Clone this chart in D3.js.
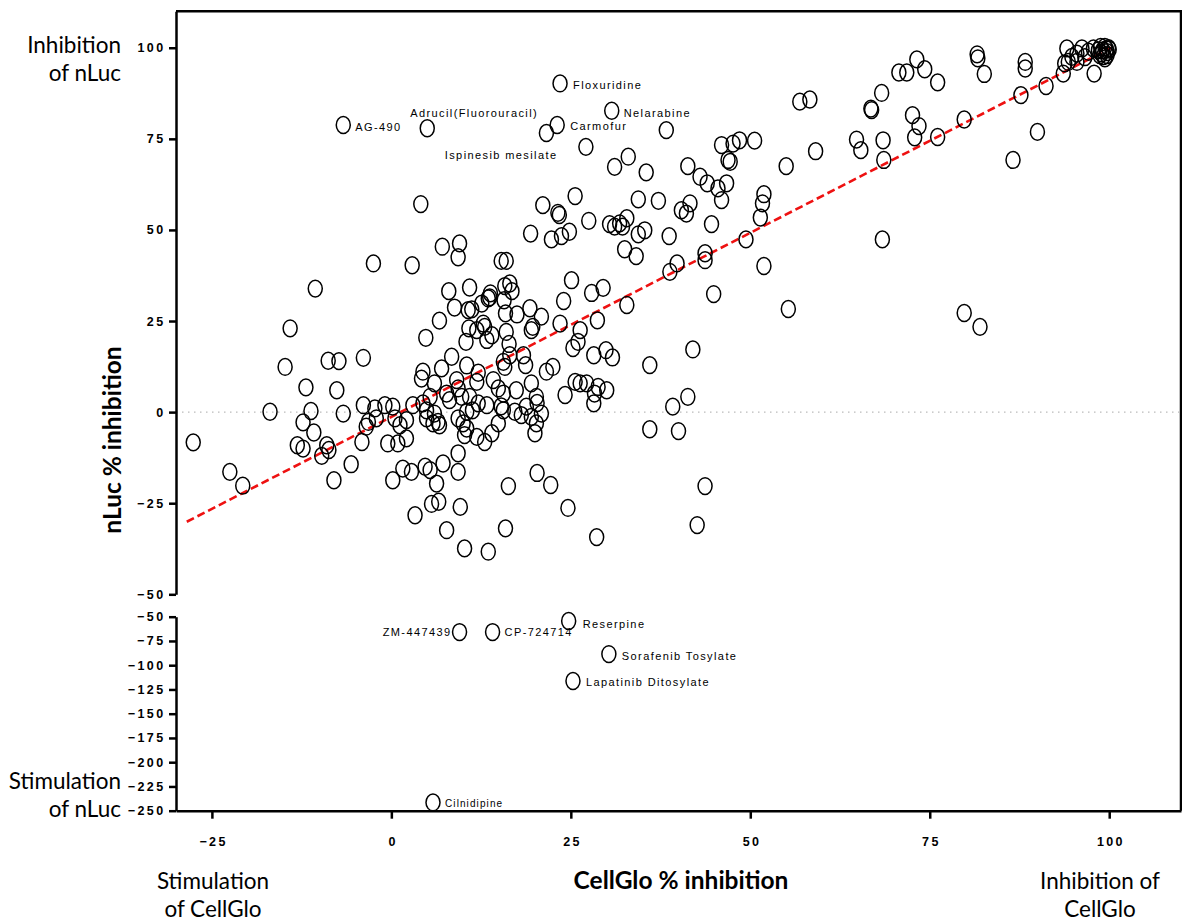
<!DOCTYPE html>
<html>
<head>
<meta charset="utf-8">
<title>CellGlo vs nLuc % inhibition</title>
<script src="https://cdn.jsdelivr.net/npm/d3@7"></script>
<style>
	body { margin: 0; background: #fff; }
	.tick line { stroke: #000; stroke-width: 2.5; }
	.domain { stroke: #000; stroke-width: 2.5; }
</style>
</head>
<body>
<div id="chart"></div>
<script>

	// each compound: [CellGlo % inhibition, nLuc % inhibition]
	var screened = [
		[-10.6,33.9],[-14.1,23.0],[-14.8,12.4],[-8.8,14.1],[-11.9,6.8],[-16.9,0.1],[-11.2,0.3],[-12.3,-2.8],
		[-10.8,-5.6],[-27.6,-8.3],[-13.1,-9.1],[-12.3,-10.0],[-9.0,-9.1],[-8.7,-10.4],[-9.7,-12.0],[-22.5,-16.4],
		[-20.7,-20.2],[-7.3,14.0],[-7.6,6.0],[-6.7,-0.4],[-5.6,-14.3],[-8.0,-18.7],[-4.1,-8.2],[-3.9,14.9],[-2.5,40.8],
		[4.1,57.1],[7.1,45.4],[9.5,46.3],[9.3,42.5],[2.9,40.3],[15.3,41.5],[16.0,41.5],[8.0,33.2],[10.9,34.2],
		[13.8,32.6],[13.7,31.5],[15.8,34.6],[16.5,35.3],[16.8,33.2],[8.8,28.7],[10.7,28.0],[11.2,28.2],[12.6,29.8],
		[13.5,31.2],[15.7,30.7],[15.9,27.1],[17.5,26.8],[6.7,25.1],[10.8,23.0],[11.9,22.5],[12.8,24.3],[13.0,23.4],
		[14.0,21.1],[13.3,19.8],[16.0,22.0],[16.4,18.7],[4.8,20.4],[10.4,19.3],[8.4,15.2],[10.5,12.8],[16.5,15.6],
		[15.6,13.8],[15.8,12.4],[12.1,10.8],[11.9,8.3],[7.0,12.0],[6.0,7.9],[4.4,11.1],[4.2,9.2],[9.1,8.8],
		[9.3,6.5],[9.8,4.2],[14.2,8.8],[14.9,6.5],[15.6,5.1],[17.4,6.0],[7.7,5.1],[5.4,4.2],[10.9,4.2],
		[-3.9,1.9],[-2.3,1.0],[-0.9,1.9],[-3.2,-2.7],[-2.1,-1.7],[-3.5,-4.0],[0.5,-1.7],[1.2,-3.6],[2.1,-2.2],
		[-0.5,-8.6],[0.9,-8.6],[2.1,-7.2],[4.9,-1.7],[5.8,-3.1],[6.5,-2.7],[6.0,-0.4],[6.7,-3.6],[3.0,1.9],
		[4.4,2.4],[9.3,-1.7],[10.0,-3.1],[10.5,-4.5],[10.2,-6.3],[10.5,0.1],[11.9,-6.8],[13.0,-8.2],[14.0,-5.8],
		[14.9,-3.1],[12.1,2.4],[13.3,1.9],[15.6,0.5],[17.2,0.1],[18.1,-0.8],[18.8,1.5],[19.5,-1.3],[20.2,-3.1],
		[20.9,-0.4],[20.0,-5.8],[9.3,-11.3],[7.2,-14.1],[9.3,-16.4],[4.7,-15.0],[5.4,-15.9],[1.6,-15.5],[2.8,-16.4],
		[0.2,-18.7],[6.3,-19.6],[5.6,-25.2],[6.6,-24.6],[9.6,-26.0],[3.3,-28.3],[7.7,-32.4],[10.2,-37.4],[13.5,-38.3],
		[16.3,-20.3],[20.3,-16.7],[22.2,-20.0],[15.9,-31.9],[0.2,1.5],[8.1,3.3],[11.3,0.5],[15.3,1.6],[20.3,2.5],[4.9,0.5],
		[38.3,77.4],[27.1,72.8],[31.1,67.3],[33.0,70.1],[35.5,65.8],[41.3,67.5],[43.0,64.6],[44.0,62.8],[45.5,61.4],
		[46.7,62.8],[46.0,58.2],[46.0,73.3],[47.6,73.7],[46.9,69.2],[47.2,68.7],[25.6,59.3],[21.1,56.8],[23.2,54.7],
		[23.4,54.1],[27.5,52.5],[34.4,58.4],[37.2,58.0],[40.4,55.4],[41.6,57.3],[41.1,54.5],[30.4,51.6],[31.8,51.8],
		[32.8,53.2],[31.1,50.9],[32.2,50.9],[34.4,48.8],[35.3,49.9],[38.7,48.3],[44.6,51.6],[19.4,49.0],[22.3,47.4],
		[23.7,48.3],[24.8,49.5],[32.5,44.7],[34.1,42.8],[43.7,43.6],[43.7,41.7],[38.8,38.5],[39.8,40.8],[25.1,36.2],
		[27.9,32.7],[29.5,34.1],[24.0,30.5],[32.8,29.4],[44.9,32.4],[19.3,28.5],[20.9,26.2],[19.7,23.4],[19.5,22.5],
		[23.5,24.3],[26.3,22.5],[26.0,19.3],[28.7,25.2],[25.3,17.6],[28.2,15.6],[29.9,17.0],[30.8,15.0],[22.5,12.4],
		[21.6,11.1],[18.7,12.9],[18.4,15.6],[36.0,12.9],[42.0,17.2],[19.5,7.9],[20.2,4.2],[25.6,8.3],[26.3,7.9],
		[27.2,7.9],[28.8,6.9],[30.0,6.0],[28.3,5.1],[28.2,2.4],[24.2,4.7],[41.3,4.2],[39.2,1.5],[40.0,-5.2],
		[36.0,-4.7],[24.6,-26.3],[28.6,-34.3],[43.7,-20.3],[42.6,-31.0],
		[48.5,74.6],[50.6,74.5],[56.9,85.2],[58.3,85.8],[55.0,67.5],[59.1,71.6],[51.9,59.8],[51.7,57.3],[51.4,53.4],
		[49.4,47.4],[51.9,40.1],[55.3,28.3],[64.8,74.8],[65.4,71.9],[68.5,74.6],[68.6,69.2],[68.3,87.6],[66.9,82.9],
		[66.8,83.3],[70.7,93.2],[71.8,93.2],[73.2,96.8],[74.3,94.1],[76.1,90.5],[72.6,81.5],[73.5,78.5],[72.9,75.4],
		[76.1,75.5],[79.8,80.3],[68.4,47.4],[81.6,98.2],[81.7,97.1],[82.6,92.8],[86.6,69.2],[90.0,76.9],[88.3,96.1],
		[88.3,94.3],[87.7,87.0],[91.2,89.5],[79.8,27.2],[82.0,23.4],
		[94.1,99.8],[93.8,95.7],[94.8,97.5],[95.5,98.4],[96.2,99.8],[95.5,96.1],[93.6,92.9],[94.3,96.1],[97.1,98.9],
		[97.8,99.8],[98.5,99.3],[97.9,92.9],[98.7,98.0],[99.1,99.3],[99.4,100.2],[99.7,98.8],[99.2,97.7],[99.6,99.6],
		[99.9,99.9],[98.9,98.5],[99.7,98.0],[99.4,97.1],[100.0,99.5],[98.8,100.2],[96.6,97.4]
	];

	// named compounds
	var labelNames = ["AG-490", "Adrucil(Fluorouracil)", "Carmofur", "Ispinesib mesilate", "Floxuridine", "Nelarabine",
		"ZM-447439", "CP-724714", "Reserpine", "Sorafenib Tosylate", "Lapatinib Ditosylate", "Cilnidipine"];
	var labelX = [-6.7, 5.0, 23.1, 21.6, 23.5, 30.7, 9.5, 14.1, 24.7, 30.3, 25.3, 5.8];
	var labelY = [78.8, 77.9, 78.8, 76.6, 90.2, 82.7, -65.8, -65.8, -54.4, -88.5, -116.3, -241.5];

	// where each name sits next to its circle
	var labelPlace = [
		{dx: 12, dy: 2, anchor: "start"}, {dx: -17, dy: -15, anchor: "start"}, {dx: 13, dy: 1, anchor: "start"},
		{dx: 11, dy: 22, anchor: "end"}, {dx: 13, dy: 2, anchor: "start"}, {dx: 12, dy: 2, anchor: "start"},
		{dx: -8, dy: 0, anchor: "end"}, {dx: 12, dy: 0, anchor: "start"}, {dx: 14, dy: 3, anchor: "start"},
		{dx: 13, dy: 2, anchor: "start"}, {dx: 13, dy: 1, anchor: "start"}, {dx: 12, dy: 1, anchor: "start", small: true}
	];

	var xTicks = [-25, 0, 25, 50, 75, 100];
	var yTicksTop = [100, 75, 50, 25, 0, -25, -50];
	var yTicksBottom = [-50, -75, -100, -125, -150, -175, -200, -225, -250];

	// linear fit drawn across the data
	var fitSlope = 1.01;
	var fitIntercept = -1.3;
	var fitFrom = -28.5, fitTo = 100.3;

	var W = 1182, H = 922;
	var axisX = 176, rightX = 1181, topY = 11.3, baseY = 810.7;

	var svg = d3.select("#chart").append("svg")
		.attr("width", W)
		.attr("height", H)
		.style("font-family", "'Liberation Sans', Arial, sans-serif");

	var x = d3.scaleLinear().domain([-30, 110]).range([axisX, rightX]);
	var yTop = d3.scaleLinear().domain([-50, 110]).range([594.3, topY]);
	var yBot = d3.scaleLinear().domain([-250, -50]).range([baseY, 616.7]);

	function yPos(v) { return v >= -50 ? yTop(v) : yBot(v); }

	// frame on top and right
	svg.append("path")
		.attr("d", "M" + axisX + "," + topY + "H" + rightX + "V" + baseY)
		.attr("fill", "none")
		.attr("stroke", "#000")
		.attr("stroke-width", 2.5);

	// zero line
	svg.append("line")
		.attr("x1", axisX).attr("x2", rightX)
		.attr("y1", yTop(0)).attr("y2", yTop(0))
		.attr("stroke", "#bbb")
		.attr("stroke-width", 1.2)
		.attr("stroke-dasharray", "1.5,4.5");

	function styleTicks(g) {
		g.attr("font-family", "'Liberation Sans', Arial, sans-serif");
		g.selectAll("text")
			.attr("fill", "#000")
			.style("font-size", "12.5px")
			.style("font-weight", "bold")
			.style("letter-spacing", "2.4px");
	}

	// y axes (broken)
	svg.append("g")
		.attr("transform", "translate(" + axisX + ",0)")
		.call(d3.axisLeft(yTop).tickValues(yTicksTop).tickSize(7).tickSizeOuter(0).tickPadding(3.5))
		.call(styleTicks);

	svg.append("g")
		.attr("transform", "translate(" + axisX + ",0)")
		.call(d3.axisLeft(yBot).tickValues(yTicksBottom).tickSize(7).tickSizeOuter(0).tickPadding(3.5))
		.call(styleTicks);

	// x axis
	var gx = svg.append("g")
		.attr("transform", "translate(0," + baseY + ")")
		.call(d3.axisBottom(x).tickValues(xTicks).tickSize(8).tickSizeOuter(0).tickPadding(18))
		.call(styleTicks);
	gx.selectAll("text").attr("dx", "1.2px");

	// fit line
	svg.append("line")
		.attr("x1", x(fitFrom)).attr("y1", yTop(fitIntercept + fitSlope * fitFrom))
		.attr("x2", x(fitTo)).attr("y2", yTop(fitIntercept + fitSlope * fitTo))
		.attr("stroke", "#ee1111")
		.attr("stroke-width", 2.6)
		.attr("stroke-dasharray", "8,4");

	// compounds
	svg.append("g").selectAll("ellipse")
		.data(screened)
		.enter()
		.append("ellipse")
		.attr("cx", function(d) { return x(d[0]); })
		.attr("cy", function(d) { return yPos(d[1]); })
		.attr("rx", 7)
		.attr("ry", 8.4)
		.attr("fill", "none")
		.attr("stroke", "#000")
		.attr("stroke-width", 1.5);

	var named = labelNames.map(function(n, i) {
		return {name: n, x: labelX[i], y: labelY[i], place: labelPlace[i]};
	});

	svg.append("g").selectAll("ellipse")
		.data(named)
		.enter()
		.append("ellipse")
		.attr("cx", function(d) { return x(d.x); })
		.attr("cy", function(d) { return yPos(d.y); })
		.attr("rx", 7)
		.attr("ry", 8.4)
		.attr("fill", "none")
		.attr("stroke", "#000")
		.attr("stroke-width", 1.5);

	svg.append("g").selectAll("text")
		.data(named)
		.enter()
		.append("text")
		.attr("x", function(d) { return x(d.x) + d.place.dx; })
		.attr("y", function(d) { return yPos(d.y) + d.place.dy; })
		.attr("dy", "0.35em")
		.attr("text-anchor", function(d) { return d.place.anchor; })
		.style("font-size", function(d) { return d.place.small ? "10px" : "11px"; })
		.style("letter-spacing", function(d) { return d.place.small ? "1.1px" : "1.4px"; })
		.text(function(d) { return d.name; });

	// axis titles
	svg.append("text")
		.attr("transform", "translate(121,440) rotate(-90)")
		.attr("text-anchor", "middle")
		.style("font-family", "Lato, 'Open Sans', sans-serif")
		.style("font-size", "24.5px")
		.style("font-weight", "bold")
		.text("nLuc % inhibition");

	svg.append("text")
		.attr("x", 681)
		.attr("y", 889)
		.attr("text-anchor", "middle")
		.style("font-family", "Lato, 'Open Sans', sans-serif")
		.style("font-size", "24.5px")
		.style("font-weight", "bold")
		.text("CellGlo % inhibition");

	// direction notes
	function note(lines, px, py, anchor) {
		var t = svg.append("text")
			.attr("text-anchor", anchor)
			.style("font-family", "Lato, 'Open Sans', sans-serif")
			.style("font-size", "22.5px");
		lines.forEach(function(s, i) {
			t.append("tspan").attr("x", px).attr("y", py + i * 27.5).text(s);
		});
	}
	note(["Inhibition", "of nLuc"], 121, 53, "end");
	note(["Stimulation", "of nLuc"], 121, 789, "end");
	note(["Stimulation", "of CellGlo"], 213, 889, "middle");
	note(["Inhibition of", "CellGlo"], 1100, 889, "middle");

</script>
</body>
</html>
